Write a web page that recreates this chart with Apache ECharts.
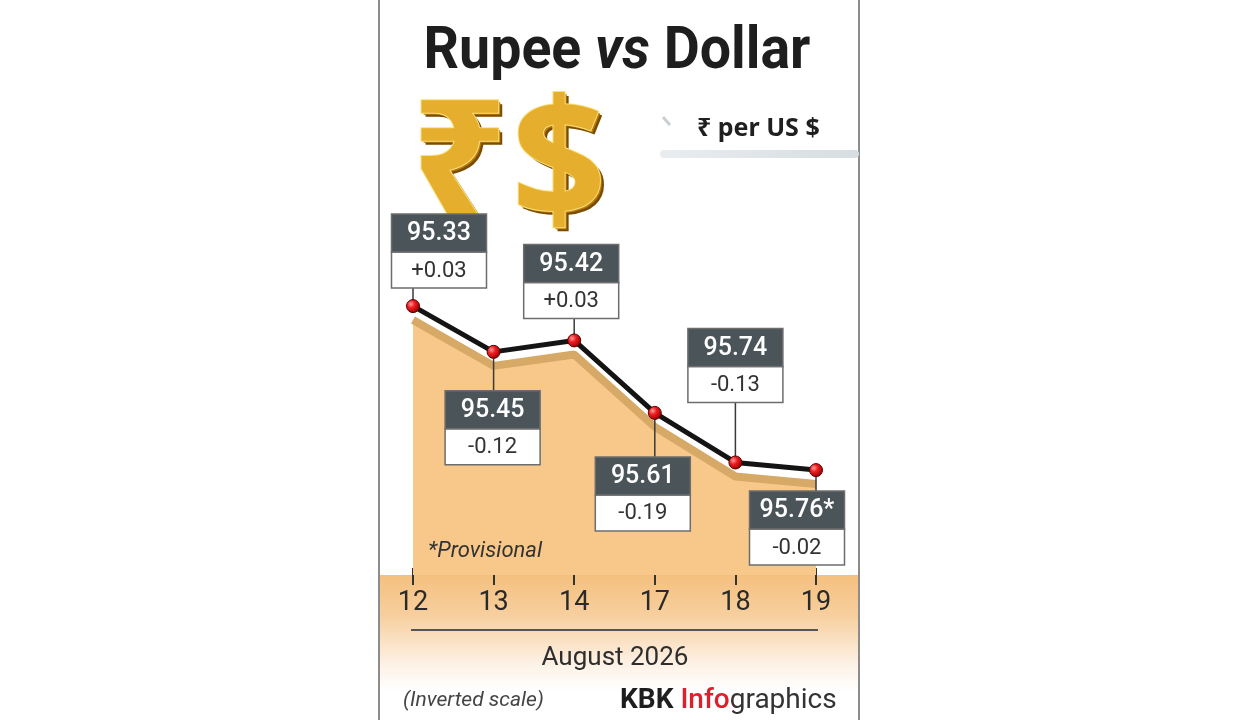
<!DOCTYPE html>
<html>
<head>
<meta charset="utf-8">
<script src="https://cdn.jsdelivr.net/npm/echarts@6/dist/echarts.min.js"></script>
<style>
  html, body { margin: 0; padding: 0; background: #ffffff; }
  #chart { width: 1240px; height: 720px; }
</style>
</head>
<body>
<div id="chart"></div>
<script>
// ---- data ----
const days = ['12', '13', '14', '17', '18', '19'];
const rates = [95.33, 95.45, 95.42, 95.61, 95.74, 95.76];
const rateLabels = ['95.33', '95.45', '95.42', '95.61', '95.74', '95.76*'];
const changes = ['+0.03', '-0.12', '+0.03', '-0.19', '-0.13', '-0.02'];
const monthLabel = 'August 2026';

// ---- layout of the callout boxes (style only) ----
const boxLayout = [
  { dx: 26, side: -1, gap: 18 },
  { dx: -1, side: 1, gap: 39 },
  { dx: -3, side: -1, gap: 22 },
  { dx: -12, side: 1, gap: 44 },
  { dx: 0, side: -1, gap: 60 },
  { dx: -19, side: 1, gap: 21 }
];
const BOX_W = 95, HEAD_H = 38, LOW_H = 36;

const chart = echarts.init(document.getElementById('chart'));

function renderBox(params, api) {
  const i = params.dataIndex;
  const p = api.coord([api.value(0), api.value(1)]);
  const L = boxLayout[i];
  const total = HEAD_H + LOW_H;
  const top = L.side < 0 ? p[1] - L.gap - total : p[1] + L.gap;
  const left = p[0] + L.dx - BOX_W / 2;
  const edgeY = L.side < 0 ? top + total : top;
  return {
    type: 'group',
    children: [
      { type: 'line', shape: { x1: p[0], y1: p[1], x2: p[0], y2: edgeY },
        style: { stroke: '#3a3a3a', lineWidth: 1.5 } },
      { type: 'rect', shape: { x: left, y: top + HEAD_H, width: BOX_W, height: LOW_H },
        style: { fill: '#ffffff', stroke: '#6d6d6d', lineWidth: 1.5 } },
      { type: 'rect', shape: { x: left, y: top, width: BOX_W, height: HEAD_H },
        style: { fill: '#4b5459', stroke: '#6d6d6d', lineWidth: 1.5 } },
      { type: 'text', x: left + BOX_W / 2, y: top + HEAD_H / 2 + 1,
        style: { text: rateLabels[i], fill: '#ffffff', font: '500 25px Roboto',
                 align: 'center', verticalAlign: 'middle' } },
      { type: 'text', x: left + BOX_W / 2, y: top + HEAD_H + LOW_H / 2 + 1,
        style: { text: changes[i], fill: '#333333', font: '22px Roboto',
                 align: 'center', verticalAlign: 'middle' } }
    ]
  };
}

function goldGlyph(ch, cx, cy, size) {
  const base = { align: 'center', verticalAlign: 'middle', font: 'bold ' + size + 'px "Noto Sans"', text: ch };
  return [
    { type: 'text', z: 1, x: cx + 4, y: cy + 4,
      style: Object.assign({}, base, { fill: '#7a4c03', shadowBlur: 8, shadowColor: 'rgba(0,0,0,0.35)', shadowOffsetY: 4 }) },
    { type: 'text', z: 1, x: cx + 2, y: cy + 2,
      style: Object.assign({}, base, { fill: '#b57a0c' }) },
    { type: 'text', z: 1, x: cx, y: cy,
      style: Object.assign({}, base, { fill: '#e5ae2c', stroke: '#fbe07e', lineWidth: 2 }) }
  ];
}

const option = {
  backgroundColor: '#ffffff',
  animation: false,
  grid: [
    { left: 413, right: 424, top: 256.5, bottom: 145 },
    { left: 413, right: 424, top: 270.5, bottom: 145 }
  ],
  xAxis: [
    {
      type: 'category', gridIndex: 0, data: days, boundaryGap: false,
      offset: -7,
      axisLine: { show: false },
      axisTick: { show: true, length: 17, lineStyle: { color: '#333', width: 2 } },
      axisLabel: { margin: 22, fontSize: 27, fontFamily: 'Roboto', color: '#2a2a2a' },
      splitLine: { show: false }
    },
    {
      type: 'category', gridIndex: 1, data: days, boundaryGap: false, show: false
    }
  ],
  yAxis: [
    { type: 'value', gridIndex: 0, inverse: true, min: 95.2, max: 96.035, show: false, splitLine: { show: false } },
    { type: 'value', gridIndex: 1, inverse: true, min: 95.2, max: 95.9983, show: false, splitLine: { show: false } }
  ],
  series: [
    {
      type: 'line', xAxisIndex: 1, yAxisIndex: 1, data: rates, z: 2,
      symbol: 'none', silent: true,
      lineStyle: { color: '#d6a966', width: 8 },
      areaStyle: { color: '#f8c88b', opacity: 1, origin: 'end' }
    },
    {
      type: 'custom', xAxisIndex: 0, yAxisIndex: 0, z: 3, clip: false,
      data: rates.map((v, i) => [i, v]),
      renderItem: renderBox
    },
    {
      type: 'line', xAxisIndex: 0, yAxisIndex: 0, data: rates, z: 4,
      symbol: 'circle', symbolSize: 13,
      lineStyle: { color: '#141414', width: 5 },
      itemStyle: {
        color: { type: 'radial', x: 0.35, y: 0.35, r: 0.7,
          colorStops: [{ offset: 0, color: '#ff9a9a' }, { offset: 0.4, color: '#ee1c20' }, { offset: 1, color: '#8e0000' }] },
        borderColor: '#5a0000', borderWidth: 1
      }
    }
  ],
  graphic: [
    // bottom band
    { type: 'rect', z: -10, shape: { x: 380, y: 575, width: 479, height: 145 },
      style: { fill: { type: 'linear', x: 0, y: 0, x2: 0, y2: 1,
        colorStops: [{ offset: 0, color: '#f4c07f' }, { offset: 0.28, color: '#f7cf9e' },
                     { offset: 0.6, color: '#fdf0e3' }, { offset: 0.8, color: '#ffffff' }, { offset: 1, color: '#ffffff' }] } } },
    // panel borders
    { type: 'line', z: 10, shape: { x1: 379, y1: 0, x2: 379, y2: 720 }, style: { stroke: '#8c8c8c', lineWidth: 2 } },
    { type: 'line', z: 10, shape: { x1: 859, y1: 0, x2: 859, y2: 720 }, style: { stroke: '#8c8c8c', lineWidth: 2 } },
    // title
    { type: 'text', z: 10, x: 617, y: 53, scaleX: 0.94,
      style: { text: '{a|Rupee }{b|vs}{a| Dollar}', align: 'center', verticalAlign: 'middle',
        rich: {
          a: { font: 'bold 59px Roboto', fill: '#1e1e1e' },
          b: { font: 'italic bold 59px Roboto', fill: '#1e1e1e' }
        } } },
    // gold symbols
    ...goldGlyph('₹', 459, 174, 170),
    ...goldGlyph('$', 559, 171, 166),
    // unit note
    { type: 'line', z: 10, shape: { x1: 663, y1: 117, x2: 670, y2: 125 }, style: { stroke: '#c9d0d4', lineWidth: 3 } },
    { type: 'text', z: 10, x: 697, y: 129,
      style: { text: '₹ per US $', font: 'bold 25px "Noto Sans"', fill: '#1f1f1f', align: 'left', verticalAlign: 'middle' } },
    { type: 'rect', z: 10, shape: { x: 660, y: 150, width: 199, height: 8, r: 4 },
      style: { fill: { type: 'linear', x: 0, y: 0, x2: 1, y2: 0,
        colorStops: [{ offset: 0, color: '#e9edef' }, { offset: 1, color: '#d7dde0' }] } } },
    // provisional note
    { type: 'text', z: 10, x: 428, y: 551,
      style: { text: '*Provisional', font: 'italic 22px Roboto', fill: '#333', align: 'left', verticalAlign: 'middle' } },
    // axis title line & text
    { type: 'line', z: 10, shape: { x1: 411, y1: 630, x2: 818, y2: 630 }, style: { stroke: '#555', lineWidth: 2 } },
    { type: 'text', z: 10, x: 615, y: 658,
      style: { text: monthLabel, font: '26px Roboto', fill: '#2e2e2e', align: 'center', verticalAlign: 'middle' } },
    // footer
    { type: 'text', z: 10, x: 403, y: 701,
      style: { text: '(Inverted scale)', font: 'italic 21px Roboto', fill: '#444', align: 'left', verticalAlign: 'middle' } },
    { type: 'text', z: 10, x: 620, y: 701,
      style: { text: '{k|KBK }{i|Info}{g|graphics}', align: 'left', verticalAlign: 'middle',
        rich: {
          k: { font: 'bold 28px Roboto', fill: '#1e1e1e' },
          i: { font: '500 28px Roboto', fill: '#e01f2d' },
          g: { font: '28px Roboto', fill: '#333' }
        } } }
  ]
};

chart.setOption(option);
</script>
</body>
</html>
